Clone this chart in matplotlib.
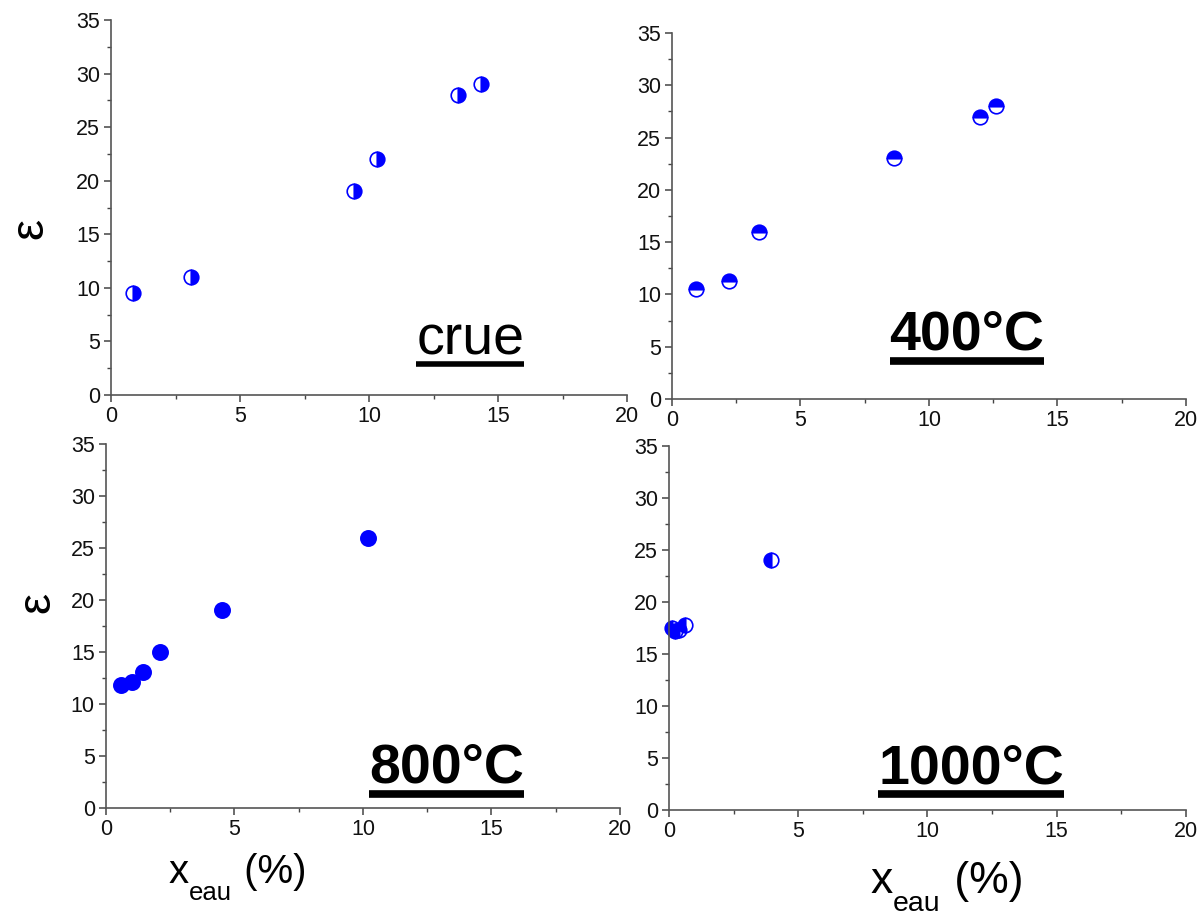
import numpy as np
import matplotlib
matplotlib.use("Agg")
import matplotlib.pyplot as plt
from matplotlib.lines import Line2D

plt.rcParams["font.family"] = ["Liberation Sans", "DejaVu Sans"]

# -------------------- data: permittivity vs water content --------------------
crue_x = [0.85, 3.1, 9.4, 10.3, 13.45, 14.35]
crue_eps = [9.5, 11.0, 19.0, 22.0, 28.0, 29.0]

t400_x = [0.95, 2.2, 3.4, 8.65, 12.0, 12.6]
t400_eps = [10.5, 11.3, 16.0, 23.0, 27.0, 28.0]

t800_x = [0.57, 1.02, 1.45, 2.1, 4.5, 10.2]
t800_eps = [11.8, 12.1, 13.1, 15.0, 19.0, 26.0]

t1000_x = [0.1, 0.25, 0.4, 0.6, 3.95]
t1000_eps = [17.5, 17.2, 17.3, 17.8, 24.0]

labels = ["crue", "400°C", "800°C", "1000°C"]

BLUE = "#0000ff"

fig = plt.figure(figsize=(12, 9.18), dpi=100)

# axes rectangles (left, bottom, width, height) in figure fraction
rects = [
    (0.0925, 0.5697, 0.4300, 0.4085),
    (0.5600, 0.5654, 0.4283, 0.3987),
    (0.0883, 0.1198, 0.4283, 0.3965),
    (0.5575, 0.1176, 0.4308, 0.3965),
]

panels = [
    (crue_x, crue_eps, "right", False, (0.696, 0.107)),
    (t400_x, t400_eps, "top", True, (0.574, 0.134)),
    (t800_x, t800_eps, "full", True, (0.663, 0.069)),
    (t1000_x, t1000_eps, "left", True, (0.584, 0.074)),
]

axes = []
texts = []
for rect, (xs, ys, fill, bold, pos), lab in zip(rects, panels, labels):
    ax = fig.add_axes(rect)
    ax.plot(xs, ys, linestyle="none", marker="o",
            markersize=11 if fill == "full" else 10.5,
            fillstyle=fill, color=BLUE, markeredgecolor=BLUE,
            markerfacecoloralt="none", markeredgewidth=1.2, clip_on=False)
    ax.set_xlim(0, 20)
    ax.set_ylim(0, 35)
    ax.set_xticks(np.arange(0, 21, 5))
    ax.set_yticks(np.arange(0, 36, 5))
    ax.set_xticks(np.arange(2.5, 20, 5), minor=True)
    ax.set_yticks(np.arange(2.5, 35, 5), minor=True)
    for s in ["top", "right"]:
        ax.spines[s].set_visible(False)
    for s in ["left", "bottom"]:
        ax.spines[s].set_color("#555555")
        ax.spines[s].set_linewidth(1.2)
    ax.tick_params(which="major", direction="out", length=5, width=1.1,
                   color="#444444", labelsize=15.5, pad=3, labelcolor="#111111")
    ax.tick_params(which="minor", direction="out", length=3, width=1.0,
                   color="#444444")
    t = ax.text(pos[0], pos[1], lab, transform=ax.transAxes, ha="center",
                va="baseline", fontsize=40,
                fontweight="bold" if bold else "normal", color="black")
    texts.append(t)
    axes.append(ax)

# epsilon on the left column
for ax, (lx, ly) in [(axes[0], (-0.157, 0.445)), (axes[2], (-0.134, 0.566))]:
    ax.set_ylabel("ε", fontsize=34, va="center")
    ax.yaxis.set_label_coords(lx, ly)


def water_label(ax, x, y, fs):
    """x_eau (%) built from three pieces so the subscript sits low."""
    t1 = ax.text(x, y, "x", transform=ax.transAxes, fontsize=fs,
                 ha="left", va="baseline")
    t2 = ax.annotate("eau", xy=(1, 0), xycoords=t1,
                     xytext=(0.5, -0.34 * fs), textcoords="offset points",
                     fontsize=0.64 * fs, ha="left", va="bottom")
    ax.annotate(" (%)", xy=(1, 0), xycoords=(t2, t1),
                xytext=(1, 0), textcoords="offset points",
                fontsize=fs, ha="left", va="bottom")


water_label(axes[2], 0.121, -0.207, 29)
water_label(axes[3], 0.389, -0.228, 32)

# underline the panel titles
fig.canvas.draw()
renderer = fig.canvas.get_renderer()
for t, bold in zip(texts, [p[3] for p in panels]):
    bb = t.get_window_extent(renderer)
    base = bb.y0 + 0.21 * (bb.y1 - bb.y0)
    y = base - (10 if bold else 8)
    x0, y0 = fig.transFigure.inverted().transform((bb.x0, y))
    x1, _ = fig.transFigure.inverted().transform((bb.x1, y))
    fig.add_artist(Line2D([x0, x1], [y0, y0], color="black",
                          linewidth=5.5 if bold else 4, solid_capstyle="butt"))

fig.savefig("out.png", dpi=100)
